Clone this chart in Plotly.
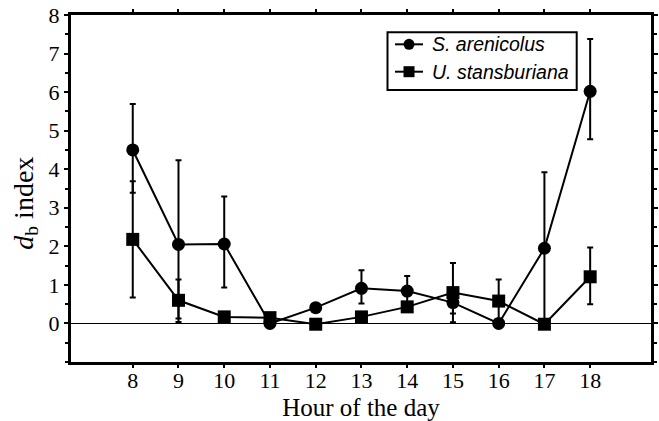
import plotly.graph_objects as go

# Hour of the day
hours = [8, 9, 10, 11, 12, 13, 14, 15, 16, 17, 18]

# S. arenicolus: d_b index with asymmetric error bars
s_arenicolus = [4.50, 2.05, 2.06, 0.00, 0.41, 0.91, 0.84, 0.54, 0.00, 1.95, 6.02]
s_err_plus = [1.19, 2.18, 1.23, 0.0, 0.0, 0.47, 0.39, 0.28, 0.0, 1.97, 1.36]
s_err_minus = [1.11, 2.01, 1.13, 0.0, 0.0, 0.39, 0.39, 0.28, 0.0, 1.95, 1.24]

# U. stansburiana: d_b index with asymmetric error bars
u_stansburiana = [2.18, 0.60, 0.17, 0.15, -0.02, 0.17, 0.43, 0.80, 0.58, -0.02, 1.21]
u_err_plus = [1.51, 0.54, 0.0, 0.0, 0.0, 0.0, 0.10, 0.77, 0.56, 0.0, 0.76]
u_err_minus = [1.51, 0.47, 0.0, 0.0, 0.0, 0.0, 0.10, 0.77, 0.56, 0.0, 0.71]

y_ticks = [0, 1, 2, 3, 4, 5, 6, 7, 8]
species = ["S. arenicolus", "U. stansburiana"]

serif = "Liberation Serif, Times New Roman, serif"
sans = "Liberation Sans, Arial, sans-serif"

fig = go.Figure()

fig.add_trace(go.Scatter(
    x=hours, y=s_arenicolus, mode="lines+markers",
    name=species[0], showlegend=False,
    line=dict(color="black", width=2),
    marker=dict(symbol="circle", size=13, color="black"),
    error_y=dict(type="data", symmetric=False, array=s_err_plus,
                 arrayminus=s_err_minus, color="black", thickness=2, width=3),
))

fig.add_trace(go.Scatter(
    x=hours, y=u_stansburiana, mode="lines+markers",
    name=species[1], showlegend=False,
    line=dict(color="black", width=2),
    marker=dict(symbol="square", size=13, color="black"),
    error_y=dict(type="data", symmetric=False, array=u_err_plus,
                 arrayminus=u_err_minus, color="black", thickness=2, width=3),
))

# Boxed key in the upper right: frame, line glyphs, marker glyphs, labels
key_x0, key_x1, key_y0, key_y1 = 0.5457, 0.8719, 0.7839, 0.9501
row_y = [0.9155, 0.8366]
glyph_x0, glyph_x1, glyph_xc = 0.5586, 0.6069, 0.5828
label_x = 0.6190
glyph_types = ["circle", "rect"]

shapes = [dict(type="rect", xref="paper", yref="paper",
               x0=key_x0, x1=key_x1, y0=key_y0, y1=key_y1,
               line=dict(color="black", width=2), fillcolor="white", layer="above")]
annotations = []
for name, ry, gtype in zip(species, row_y, glyph_types):
    shapes.append(dict(type="line", xref="paper", yref="paper",
                       x0=glyph_x0, x1=glyph_x1, y0=ry, y1=ry,
                       line=dict(color="black", width=2), layer="above"))
    shapes.append(dict(type=gtype, xref="paper", yref="paper",
                       xsizemode="pixel", ysizemode="pixel",
                       xanchor=glyph_xc, yanchor=ry,
                       x0=-5.5, x1=5.5, y0=-5.5, y1=5.5,
                       line=dict(color="black", width=0),
                       fillcolor="black", layer="above"))
    annotations.append(dict(xref="paper", yref="paper", x=label_x, y=ry,
                            xanchor="left", yanchor="middle", showarrow=False,
                            text=f"<i>{name}</i>",
                            font=dict(family=sans, size=19.5, color="black")))

# Y-axis title, rotated, sitting left of the tick labels
annotations.append(dict(xref="paper", yref="paper", x=-0.080, y=0.458,
                        xanchor="center", yanchor="middle", showarrow=False,
                        textangle=-90,
                        text="<i>d</i><sub>b</sub> index",
                        font=dict(family=serif, size=28, color="black")))

fig.update_layout(
    width=659, height=421,
    margin=dict(l=71, r=8, t=15, b=59),
    paper_bgcolor="white", plot_bgcolor="white",
    font=dict(family=serif, color="black", size=22),
    showlegend=False,
    shapes=shapes,
    annotations=annotations,
    xaxis=dict(
        range=[6.65, 19.33], automargin=False,
        tickmode="array", tickvals=hours, ticktext=[str(h) for h in hours],
        showgrid=False, zeroline=False,
        showline=True, linecolor="black", linewidth=3, mirror="ticks",
        ticks="outside", ticklen=3, tickwidth=2, tickcolor="black",
        ticklabelstandoff=-6,
        tickfont=dict(family=serif, size=22),
        title=dict(text="Hour of the day", font=dict(family=serif, size=25),
                   standoff=10),
    ),
    yaxis=dict(
        range=[-1, 8], automargin=False,
        tickmode="array", tickvals=y_ticks, ticktext=[str(v) for v in y_ticks],
        showgrid=False,
        zeroline=True, zerolinecolor="black", zerolinewidth=1,
        showline=True, linecolor="black", linewidth=3, mirror="ticks",
        ticks="outside", ticklen=4, tickwidth=2, tickcolor="black",
        minor=dict(dtick=0.5, tick0=0, ticks="outside", ticklen=3,
                   tickwidth=2, tickcolor="black", showgrid=False),
        tickfont=dict(family=serif, size=22),
    ),
)

fig.write_html("out.html")
